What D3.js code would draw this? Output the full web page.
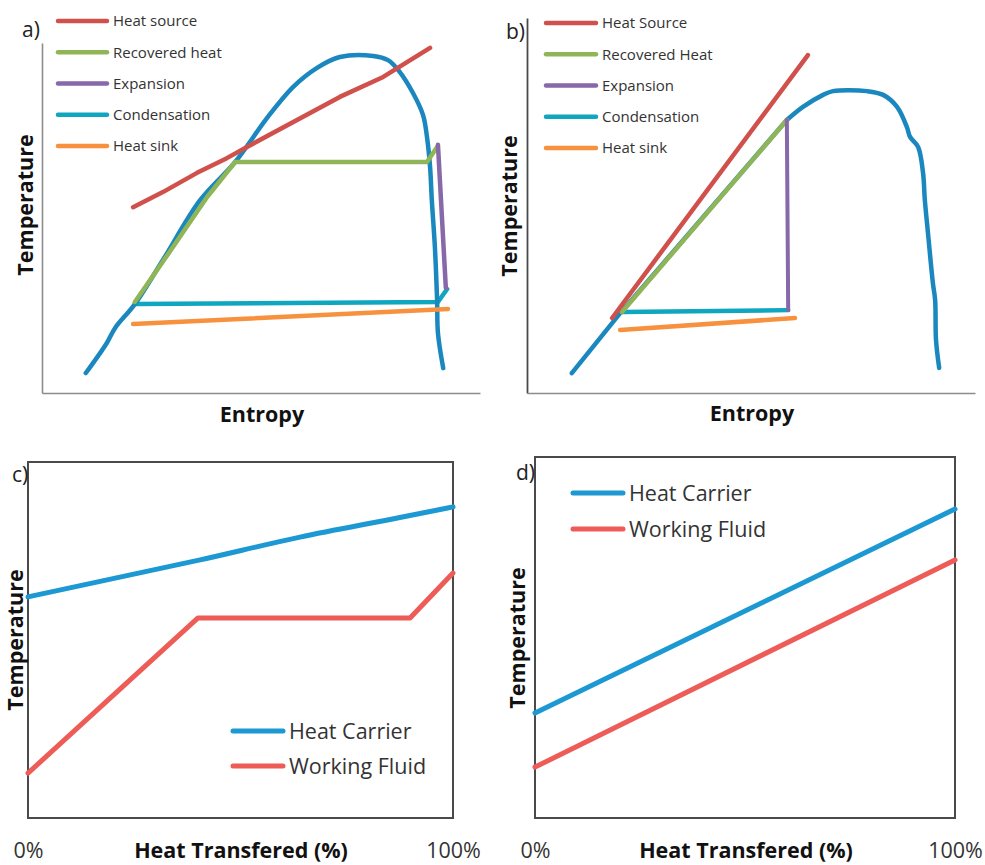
<!DOCTYPE html>
<html>
<head>
<meta charset="utf-8">
<script src="https://cdn.jsdelivr.net/npm/d3@7"></script>
<style>
  html, body { margin: 0; padding: 0; background: #ffffff; }
  svg { display: block; }
</style>
</head>
<body>
<script>
// ---------- DATA (schematic units: Entropy / Heat transferred 0-100, Temperature 0-100) ----------
// Panel a
const domeA = [[10.0,5.7],[14.8,14.3],[16.7,18.6],[21.2,25.4],[27.6,38.0],[36.1,55.1],[44.1,66.0],[51.4,78.6],
  [57.3,87.4],[62.8,92.9],[68.0,96.0],[75.6,96.3],[79.0,95.1],[81.7,91.7],[84.7,85.7],[87.0,79.4],[87.9,73.1],
  [88.6,64.6],[89.0,55.1],[89.7,41.7],[90.2,26.6],[90.4,17.1],[91.6,7.1]];
const heatSourceA = [[20.8,53.1],[27.6,57.4],[35.4,62.9],[42.2,67.1],[46.8,70.3],[68.0,84.6],[77.9,90.3],[88.6,98.6]];
const recoveredA = [[21.2,26.0],[29.9,41.7],[37.7,56.0],[44.1,66.0],[87.9,66.0],[90.2,70.3]];
const expansionA = [[90.4,70.9],[92.2,30.0]];
const condensationA = [[21.2,25.4],[90.4,26.0],[92.5,29.7]];
const heatSinkA = [[20.8,19.7],[92.7,24.0]];
const legendA = ["Heat source","Recovered heat","Expansion","Condensation","Heat sink"];

// Panel b
const liquidB = [[10.0,5.3],[20.8,21.3],[58.0,72.8]];
const domeB = [[58.0,72.8],[61.6,76.3],[66.1,79.5],[68.3,80.5],[75.9,80.5],[79.5,79.5],
  [82.6,76.3],[84.8,70.9],[85.5,68.3],[87.3,65.6],[88.4,58.7],[88.8,51.5],[89.5,42.7],[90.6,29.3],[91.1,24.8],
  [91.3,14.1],[92.0,6.7]];
const heatSourceB = [[19.0,20.0],[62.7,90.1]];
const recoveredB = [[21.2,21.6],[58.0,72.8]];
const expansionB = [[58.0,72.8],[58.3,22.1]];
const condensationB = [[21.2,21.6],[58.3,22.1]];
const heatSinkB = [[20.8,16.8],[59.8,20.0]];
const legendB = ["Heat Source","Recovered Heat","Expansion","Condensation","Heat sink"];

// Panel c
const carrierC = [[0,62.1],[40.5,72.5],[64.0,78.9],[87.5,84.4],[100,87.4]];
const fluidC = [[0,12.6],[40.0,56.2],[89.9,56.2],[100,68.8]];
// Panel d
const carrierD = [[0,29.1],[100,85.6]];
const fluidD = [[0,14.1],[100,71.5]];
const legendCD = ["Heat Carrier","Working Fluid"];
const xTicksCD = [0,100];
const xTickLabels = ["0%","100%"];

// ---------- STYLE ----------
const COL = {
  dome: "#1a88bf", source: "#d0504c", recovered: "#8fb556", expansion: "#8768a8",
  condensation: "#0fa6bf", sink: "#f7913e", carrier: "#1c98d2", fluid: "#ee5c58"
};
const LBL_FONT = "'Open Sans', sans-serif";

const svg = d3.select("body").append("svg").attr("width", 985).attr("height", 865);

function drawLine(g, data, x, y, color, w, curve) {
  g.append("path")
    .datum(data)
    .attr("fill", "none")
    .attr("stroke", color)
    .attr("stroke-width", w)
    .attr("stroke-linecap", "round")
    .attr("stroke-linejoin", "round")
    .attr("d", d3.line().x(d => x(d[0])).y(d => y(d[1])).curve(curve || d3.curveLinear));
}

function rotLabel(g, x, y, text) {
  g.append("text")
    .attr("transform", `translate(${x},${y}) rotate(-90)`)
    .attr("text-anchor", "middle")
    .attr("font-family", LBL_FONT).attr("font-weight", 700).attr("font-size", "21.5px")
    .attr("fill", "#111").text(text);
}

function hLabel(g, x, y, text, weight) {
  g.append("text").attr("x", x).attr("y", y)
    .attr("text-anchor", "middle")
    .attr("font-family", LBL_FONT).attr("font-weight", weight || 700).attr("font-size", "21.5px")
    .attr("fill", "#111").text(text);
}

function panelTag(g, x, y, t) {
  g.append("text").attr("x", x).attr("y", y)
    .attr("font-family", LBL_FONT).attr("font-size", "21px").attr("fill", "#222").text(t);
}

// ---------- PANEL A ----------
(function () {
  const g = svg.append("g");
  const x = d3.scaleLinear([0, 100], [42, 480]);
  const y = d3.scaleLinear([0, 100], [393, 43]);
  const axL = g.append("g").attr("transform", `translate(${x(0)},0)`)
    .call(d3.axisLeft(y).ticks(0).tickSizeOuter(0));
  const axB = g.append("g").attr("transform", `translate(0,${y(0)})`)
    .call(d3.axisBottom(x).ticks(0).tickSizeOuter(0));
  [axL, axB].forEach(a => a.select(".domain").attr("stroke", "#8c8c8c").attr("stroke-width", 1.6));

  drawLine(g, condensationA, x, y, COL.condensation, 4.5);
  drawLine(g, domeA, x, y, COL.dome, 4.5, d3.curveCatmullRom);
  drawLine(g, recoveredA, x, y, COL.recovered, 4.5);
  drawLine(g, heatSourceA, x, y, COL.source, 4.5);
  drawLine(g, expansionA, x, y, COL.expansion, 4.5);
  drawLine(g, heatSinkA, x, y, COL.sink, 4.5);

  const cols = [COL.source, COL.recovered, COL.expansion, COL.condensation, COL.sink];
  const rowY = d3.scalePoint(legendA, [21, 146]);
  const lg = g.append("g");
  legendA.forEach((t, i) => {
    lg.append("line").attr("x1", 58).attr("x2", 107).attr("y1", rowY(t)).attr("y2", rowY(t))
      .attr("stroke", cols[i]).attr("stroke-width", 4.5).attr("stroke-linecap", "round");
    lg.append("text").attr("x", 113).attr("y", rowY(t)).attr("dy", "0.36em")
      .attr("font-family", LBL_FONT).attr("font-size", "15px").attr("fill", "#333").text(t);
  });

  panelTag(g, 22, 37, "a)");
  rotLabel(g, 33, 205, "Temperature");
  hLabel(g, 262, 422, "Entropy");
})();

// ---------- PANEL B ----------
(function () {
  const g = svg.append("g");
  const x = d3.scaleLinear([0, 100], [527, 975]);
  const y = d3.scaleLinear([0, 100], [393, 18]);
  const axL = g.append("g").attr("transform", `translate(${x(0)},0)`)
    .call(d3.axisLeft(y).ticks(0).tickSizeOuter(0));
  const axB = g.append("g").attr("transform", `translate(0,${y(0)})`)
    .call(d3.axisBottom(x).ticks(0).tickSizeOuter(0));
  axL.select(".domain").attr("stroke", "#4a4a4a").attr("stroke-width", 1.8);
  axB.select(".domain").attr("stroke", "#8c8c8c").attr("stroke-width", 1.6);

  drawLine(g, liquidB, x, y, COL.dome, 4.5);
  drawLine(g, domeB, x, y, COL.dome, 4.5, d3.curveCatmullRom);
  drawLine(g, condensationB, x, y, COL.condensation, 4.5);
  drawLine(g, recoveredB, x, y, COL.recovered, 4.5);
  drawLine(g, heatSourceB, x, y, COL.source, 4.5);
  drawLine(g, expansionB, x, y, COL.expansion, 4);
  drawLine(g, heatSinkB, x, y, COL.sink, 4.5);

  const cols = [COL.source, COL.recovered, COL.expansion, COL.condensation, COL.sink];
  const rowY = d3.scalePoint(legendB, [23, 148]);
  const lg = g.append("g");
  legendB.forEach((t, i) => {
    lg.append("line").attr("x1", 546).attr("x2", 596).attr("y1", rowY(t)).attr("y2", rowY(t))
      .attr("stroke", cols[i]).attr("stroke-width", 4.5).attr("stroke-linecap", "round");
    lg.append("text").attr("x", 602).attr("y", rowY(t)).attr("dy", "0.36em")
      .attr("font-family", LBL_FONT).attr("font-size", "15px").attr("fill", "#333").text(t);
  });

  panelTag(g, 506, 39, "b)");
  rotLabel(g, 517, 206, "Temperature");
  hLabel(g, 752, 421, "Entropy");
})();

// ---------- PANELS C & D ----------
function panelCD(opts) {
  const g = svg.append("g");
  const x = d3.scaleLinear([0, 100], opts.xr);
  const y = d3.scaleLinear([0, 100], opts.yr);
  g.append("rect").attr("x", x(0)).attr("y", y(100))
    .attr("width", x(100) - x(0)).attr("height", y(0) - y(100))
    .attr("fill", "none").attr("stroke", "#4a4a4a").attr("stroke-width", 2);

  const ax = g.append("g").attr("transform", `translate(0,${y(0)})`)
    .call(d3.axisBottom(x).tickValues(xTicksCD).tickSize(0).tickFormat((d, i) => xTickLabels[i]));
  ax.select(".domain").remove();
  ax.selectAll("text").attr("y", 40).attr("dy", 0)
    .attr("font-family", LBL_FONT).attr("font-size", "21.5px").attr("fill", "#333");

  drawLine(g, opts.carrier, x, y, COL.carrier, 5, d3.curveMonotoneX);
  drawLine(g, opts.fluid, x, y, COL.fluid, 5);

  const cols = [COL.carrier, COL.fluid];
  const rowY = d3.scalePoint(legendCD, opts.legRows);
  legendCD.forEach((t, i) => {
    g.append("line").attr("x1", opts.legX).attr("x2", opts.legX + 50)
      .attr("y1", rowY(t)).attr("y2", rowY(t))
      .attr("stroke", cols[i]).attr("stroke-width", 5).attr("stroke-linecap", "round");
    g.append("text").attr("x", opts.legX + 56).attr("y", rowY(t)).attr("dy", "0.36em")
      .attr("font-family", LBL_FONT).attr("font-size", "21.5px").attr("fill", "#333").text(t);
  });

  panelTag(g, opts.tag[0], opts.tag[1], opts.tag[2]);
  rotLabel(g, opts.tl[0], opts.tl[1], "Temperature");
  hLabel(g, opts.xl[0], opts.xl[1], "Heat Transfered (%)");
}

panelCD({ xr: [28, 453], yr: [818, 462], carrier: carrierC, fluid: fluidC,
  legX: 233, legRows: [731, 766], tag: [12, 482, "c)"], tl: [23, 640], xl: [241, 858] });
panelCD({ xr: [535, 955], yr: [818, 457], carrier: carrierD, fluid: fluidD,
  legX: 573, legRows: [493, 529], tag: [516, 480, "d)"], tl: [525, 638], xl: [746, 858] });
</script>
</body>
</html>
